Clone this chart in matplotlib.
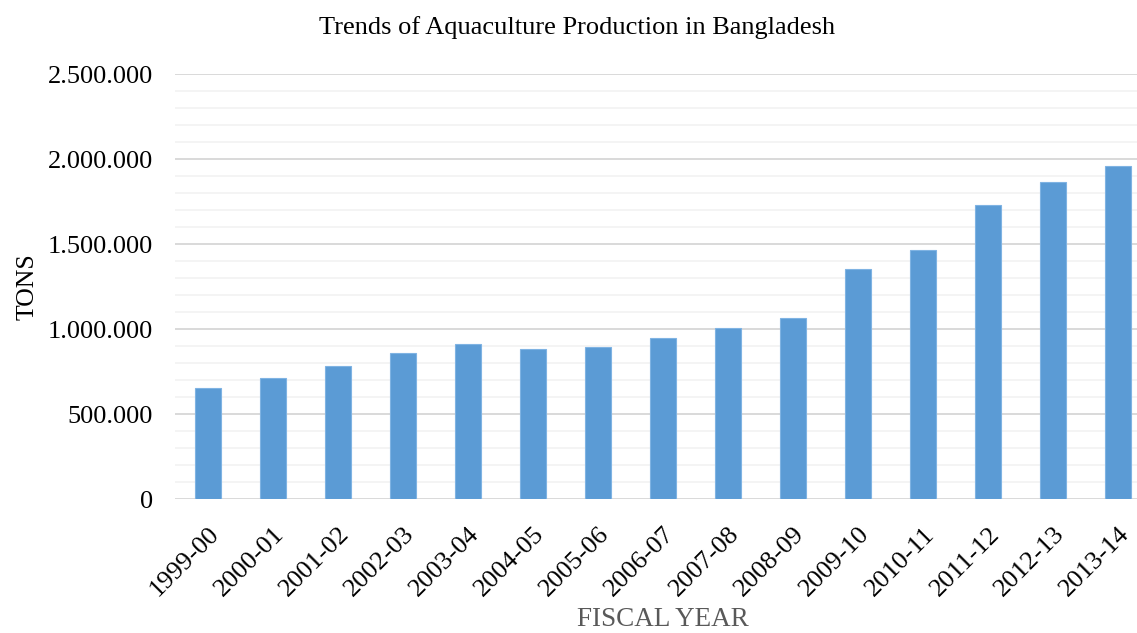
import numpy as np
import matplotlib.pyplot as plt
from matplotlib.ticker import FuncFormatter, MultipleLocator

years = ["1999-00", "2000-01", "2001-02", "2002-03", "2003-04", "2004-05",
         "2005-06", "2006-07", "2007-08", "2008-09", "2009-10", "2010-11",
         "2011-12", "2012-13", "2013-14"]
tons = [657000, 713000, 786000, 858000, 915000, 882000, 894000, 947000,
        1006000, 1065000, 1355000, 1465000, 1729000, 1865000, 1961000]

plt.rcParams['font.family'] = ['Liberation Serif', 'DejaVu Serif']

fig = plt.figure(figsize=(11.37, 6.33), dpi=100)
ax = fig.add_axes([0.1542, 0.2112, 1.0123 - 0.1542, 0.8826 - 0.2112])

x = np.arange(len(years))
ax.bar(x, tons, width=0.4, color='#5B9BD5', edgecolor='#7fb3e3', linewidth=0.8, zorder=3)

ax.set_xlim(-0.5, len(years) - 0.5)
ax.set_ylim(0, 2500000)
ax.yaxis.set_major_locator(MultipleLocator(500000))
ax.yaxis.set_minor_locator(MultipleLocator(100000))
ax.yaxis.set_major_formatter(FuncFormatter(lambda v, p: f"{int(v):,}".replace(",", ".")))
ax.grid(axis='y', which='minor', color='#f2f2f2', linewidth=1.2, zorder=0)
ax.grid(axis='y', which='major', color='#d9d9d9', linewidth=1.4, zorder=1)
for s in ax.spines.values():
    s.set_visible(False)
ax.tick_params(axis='both', which='both', length=0)
ax.tick_params(axis='y', labelsize=19, pad=16)

ax.set_xticks(x)
ax.set_xticklabels(years, rotation=45, ha='right', rotation_mode='anchor', fontsize=19)
ax.tick_params(axis='x', pad=17)

ax.set_ylabel("TONS", fontsize=18.5, color='black', labelpad=7)
# x axis title sits right at the bottom edge, centred on the (wider) plot area
fig.text(663 / 1137, 1.5 / 633, "FISCAL YEAR", fontsize=19.5, color='#595959', ha='center', va='bottom')
fig.suptitle("Trends of Aquaculture Production in Bangladesh", fontsize=19, x=577 / 1137, y=0.975, va='top')

fig.savefig("out.png", dpi=100)
